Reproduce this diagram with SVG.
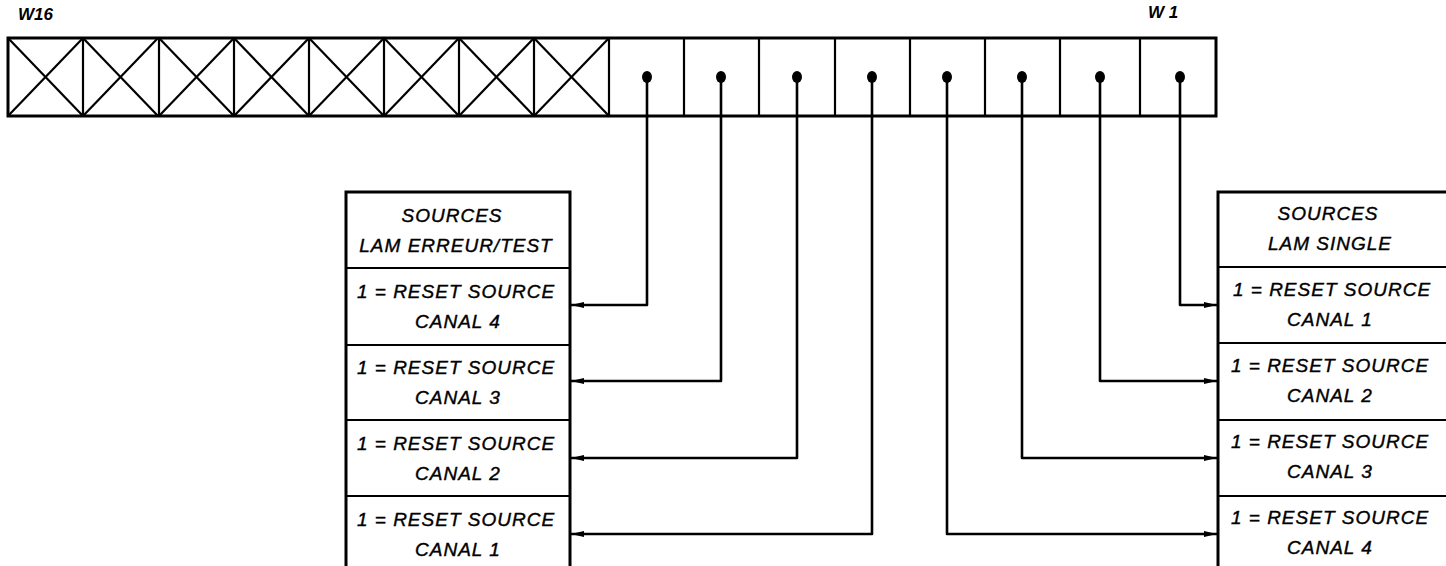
<svg xmlns="http://www.w3.org/2000/svg" width="1446" height="566" viewBox="0 0 1446 566">
<style>
  .box { fill: #fff; stroke: #000; stroke-width: 3; }
  .thin { fill: none; stroke: #000; stroke-width: 2.2; }
  .wire { fill: none; stroke: #000; stroke-width: 2.6; stroke-linejoin: round; }
  .lbl { font-family: "Liberation Sans", Arial, sans-serif; font-style: italic; font-size: 19px; fill: #000; stroke: #000; stroke-width: 0.4; text-anchor: middle; letter-spacing: 1px; }
  .tag { font-family: "Liberation Sans", Arial, sans-serif; font-style: italic; font-weight: bold; font-size: 17px; fill: #000; }
</style>
<defs>
  <marker id="arr" markerWidth="14" markerHeight="8" refX="13" refY="4" orient="auto" markerUnits="userSpaceOnUse">
    <path d="M0,1 L13,4 L0,7 Z" fill="#000"/>
  </marker>
  <g id="xcell">
    <line x1="0" y1="0" x2="75" y2="78" class="thin"/>
    <line x1="75" y1="0" x2="0" y2="78" class="thin"/>
  </g>
</defs>
<rect width="1446" height="566" fill="#fff"/>

<!-- 16-bit register W16..W1 -->
<g id="register">
  <text class="tag" x="18" y="20">W16</text>
  <text class="tag" x="1148" y="18">W 1</text>
  <rect class="box" x="8" y="38" width="1208" height="78"/>
  <g class="thin" stroke-width="3">
    <line x1="83" y1="38" x2="83" y2="116"/>
    <line x1="159" y1="38" x2="159" y2="116"/>
    <line x1="234" y1="38" x2="234" y2="116"/>
    <line x1="309" y1="38" x2="309" y2="116"/>
    <line x1="384" y1="38" x2="384" y2="116"/>
    <line x1="459" y1="38" x2="459" y2="116"/>
    <line x1="534" y1="38" x2="534" y2="116"/>
    <line x1="609" y1="38" x2="609" y2="116"/>
    <line x1="684" y1="38" x2="684" y2="116"/>
    <line x1="759" y1="38" x2="759" y2="116"/>
    <line x1="835" y1="38" x2="835" y2="116"/>
    <line x1="910" y1="38" x2="910" y2="116"/>
    <line x1="985" y1="38" x2="985" y2="116"/>
    <line x1="1060" y1="38" x2="1060" y2="116"/>
    <line x1="1140" y1="38" x2="1140" y2="116"/>
  </g>
  <use href="#xcell" x="8" y="38"/>
  <use href="#xcell" x="83" y="38"/>
  <use href="#xcell" x="159" y="38"/>
  <use href="#xcell" x="234" y="38"/>
  <use href="#xcell" x="309" y="38"/>
  <use href="#xcell" x="384" y="38"/>
  <use href="#xcell" x="459" y="38"/>
  <use href="#xcell" x="534" y="38"/>
  <g fill="#000">
    <ellipse cx="647" cy="77" rx="5" ry="6"/>
    <ellipse cx="721" cy="77" rx="5" ry="6"/>
    <ellipse cx="797" cy="77" rx="5" ry="6"/>
    <ellipse cx="872" cy="77" rx="5" ry="6"/>
    <ellipse cx="947" cy="77" rx="5" ry="6"/>
    <ellipse cx="1022" cy="77" rx="5" ry="6"/>
    <ellipse cx="1100" cy="77" rx="5" ry="6"/>
    <ellipse cx="1180" cy="77" rx="5" ry="6"/>
  </g>
</g>

<!-- left block: error/test LAM sources -->
<g id="lam-erreur-test">
  <rect class="box" x="346" y="192" width="224" height="390"/>
  <g class="thin" stroke-width="3">
    <line x1="346" y1="268" x2="570" y2="268"/>
    <line x1="346" y1="345" x2="570" y2="345"/>
    <line x1="346" y1="420" x2="570" y2="420"/>
    <line x1="346" y1="496" x2="570" y2="496"/>
  </g>
  <text class="lbl" x="452" y="222">SOURCES</text>
  <text class="lbl" x="456" y="252">LAM ERREUR/TEST</text>
  <text class="lbl" x="456" y="298">1 = RESET SOURCE</text>
  <text class="lbl" x="458" y="328">CANAL 4</text>
  <text class="lbl" x="456" y="374">1 = RESET SOURCE</text>
  <text class="lbl" x="458" y="404">CANAL 3</text>
  <text class="lbl" x="456" y="450">1 = RESET SOURCE</text>
  <text class="lbl" x="458" y="480">CANAL 2</text>
  <text class="lbl" x="456" y="526">1 = RESET SOURCE</text>
  <text class="lbl" x="458" y="556">CANAL 1</text>
</g>

<!-- right block: single LAM sources -->
<g id="lam-single">
  <rect class="box" x="1218" y="192" width="240" height="390"/>
  <g class="thin" stroke-width="3">
    <line x1="1218" y1="267" x2="1446" y2="267"/>
    <line x1="1218" y1="343" x2="1446" y2="343"/>
    <line x1="1218" y1="420" x2="1446" y2="420"/>
    <line x1="1218" y1="496" x2="1446" y2="496"/>
  </g>
  <text class="lbl" x="1328" y="220">SOURCES</text>
  <text class="lbl" x="1330" y="250">LAM SINGLE</text>
  <text class="lbl" x="1332" y="296">1 = RESET SOURCE</text>
  <text class="lbl" x="1330" y="326">CANAL 1</text>
  <text class="lbl" x="1330" y="372">1 = RESET SOURCE</text>
  <text class="lbl" x="1330" y="402">CANAL 2</text>
  <text class="lbl" x="1330" y="448">1 = RESET SOURCE</text>
  <text class="lbl" x="1330" y="478">CANAL 3</text>
  <text class="lbl" x="1330" y="524">1 = RESET SOURCE</text>
  <text class="lbl" x="1330" y="554">CANAL 4</text>
</g>

<!-- bit lines from register to reset inputs -->
<g id="connectors" class="wire">
  <polyline points="647,77 647,305 571,305" marker-end="url(#arr)"/>
  <polyline points="721,77 721,381 571,381" marker-end="url(#arr)"/>
  <polyline points="797,77 797,458 571,458" marker-end="url(#arr)"/>
  <polyline points="872,77 872,534 571,534" marker-end="url(#arr)"/>
  <polyline points="947,77 947,534 1217,534" marker-end="url(#arr)"/>
  <polyline points="1022,77 1022,458 1217,458" marker-end="url(#arr)"/>
  <polyline points="1100,77 1100,381 1217,381" marker-end="url(#arr)"/>
  <polyline points="1180,77 1180,305 1217,305" marker-end="url(#arr)"/>
</g>
</svg>
